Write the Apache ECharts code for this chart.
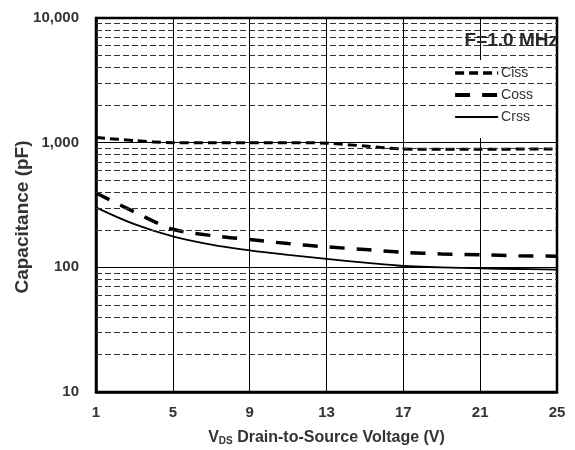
<!DOCTYPE html>
<html><head><meta charset="utf-8">
<script src="https://cdn.jsdelivr.net/npm/echarts@6/dist/echarts.min.js"></script>
<style>html,body{margin:0;padding:0;background:#fff}#c{width:575px;height:450px}</style>
</head><body><div id="c"></div>
<script>
var voltages = ['1','3','5','7','9','11','13','15','17','19','21','23','25'];
var ciss = [1100,1040,1000,1000,1000,1000,990,940,890,885,885,888,890];
var coss = [395,278,202,180,167,155,146,139,132,128,126,124,123];
var crss = [303,222,177,152,137,126,117,109,102.5,100,98,97,96];
var yTicks = [10,100,1000,10000];
var minorLines = [20,30,40,50,60,70,80,90,200,300,400,500,600,700,800,900,2000,3000,4000,5000,6000,7000,8000,9000];

var font = 'Liberation Sans, Arial, sans-serif';
var chart = echarts.init(document.getElementById('c'));
chart.setOption({
  animation: false,
  backgroundColor: '#fff',
  title: {
    text: 'F=1.0 MHz', right: 17, top: 31, padding: 0,
    textStyle: {fontFamily: font, fontSize: 19, fontWeight: 'bold', color: '#2a2a2a'}
  },
  legend: {
    data: [
      {name: 'Ciss', lineStyle: {width: 3.5}},
      {name: 'Coss', lineStyle: {width: 4}},
      {name: 'Crss', lineStyle: {width: 2}}
    ],
    orient: 'vertical', right: 32, top: 60,
    backgroundColor: '#fff', padding: [6, 10, 14, 6],
    itemWidth: 43, itemHeight: 14, itemGap: 8,
    itemStyle: {opacity: 0},
    textStyle: {fontFamily: font, fontSize: 14, color: '#333', padding: [0,0,0,-2]}
  },
  grid: {left: 96, right: 18, top: 18, bottom: 58, outerBoundsMode: 'none', containLabel: false,
    show: true, borderColor: '#000', borderWidth: 2.5, backgroundColor: 'transparent'},
  xAxis: {
    type: 'category', data: voltages, boundaryGap: false,
    name: '{v|V}{s|DS}{v| Drain-to-Source Voltage (V)}', nameLocation: 'middle', nameGap: 37,
    nameMoveOverlap: false,
    nameTextStyle: {rich: {
      v: {fontFamily: font, fontSize: 16, fontWeight: 'bold', color: '#333'},
      s: {fontFamily: font, fontSize: 10, fontWeight: 'bold', color: '#333', verticalAlign: 'bottom', padding: [7,0,0,0]}
    }},
    axisLine: {lineStyle: {color: '#000', width: 2.5}},
    axisTick: {show: false},
    axisLabel: {interval: 1, margin: 13, fontFamily: font, fontSize: 15, fontWeight: 'bold', color: '#333'},
    splitLine: {show: true, interval: 1, lineStyle: {color: '#000', width: 1}}
  },
  yAxis: {
    type: 'log', logBase: 10, min: yTicks[0], max: yTicks[yTicks.length-1],
    name: 'Capacitance (pF)', nameLocation: 'middle', nameGap: 64, nameMoveOverlap: false,
    nameTextStyle: {fontFamily: font, fontSize: 19, fontWeight: 'bold', color: '#333', padding: [0, 24, 0, 0]},
    axisLine: {show: true, lineStyle: {color: '#000', width: 2.5}},
    axisTick: {show: false},
    axisLabel: {margin: 17, fontFamily: font, fontSize: 15, fontWeight: 'bold', color: '#333',
      formatter: function (v) { return Math.round(v).toLocaleString('en-US'); }},
    splitLine: {show: true, lineStyle: {color: '#000', width: 1}}
  },
  series: [
    {
      name: 'grid', type: 'line', data: [], z: 1, silent: true,
      markLine: {
        silent: true, symbol: 'none', label: {show: false}, animation: false,
        lineStyle: {color: '#333', width: 1, type: [6, 3]},
        data: minorLines.map(function (v) { return {yAxis: v}; })
      }
    },
    {name: 'Ciss', type: 'line', data: ciss, symbol: 'none', smooth: 0.3, z: 3,
      lineStyle: {color: '#000', width: 3, type: [9, 5]}, itemStyle: {color: '#000'}},
    {name: 'Coss', type: 'line', data: coss, symbol: 'none', smooth: 0.3, z: 3,
      lineStyle: {color: '#000', width: 3.5, type: [15, 12]}, itemStyle: {color: '#000'}},
    {name: 'Crss', type: 'line', data: crss, symbol: 'none', smooth: 0.4, z: 3,
      lineStyle: {color: '#000', width: 1.8, type: 'solid'}, itemStyle: {color: '#000'}}
  ]
});
</script></body></html>
